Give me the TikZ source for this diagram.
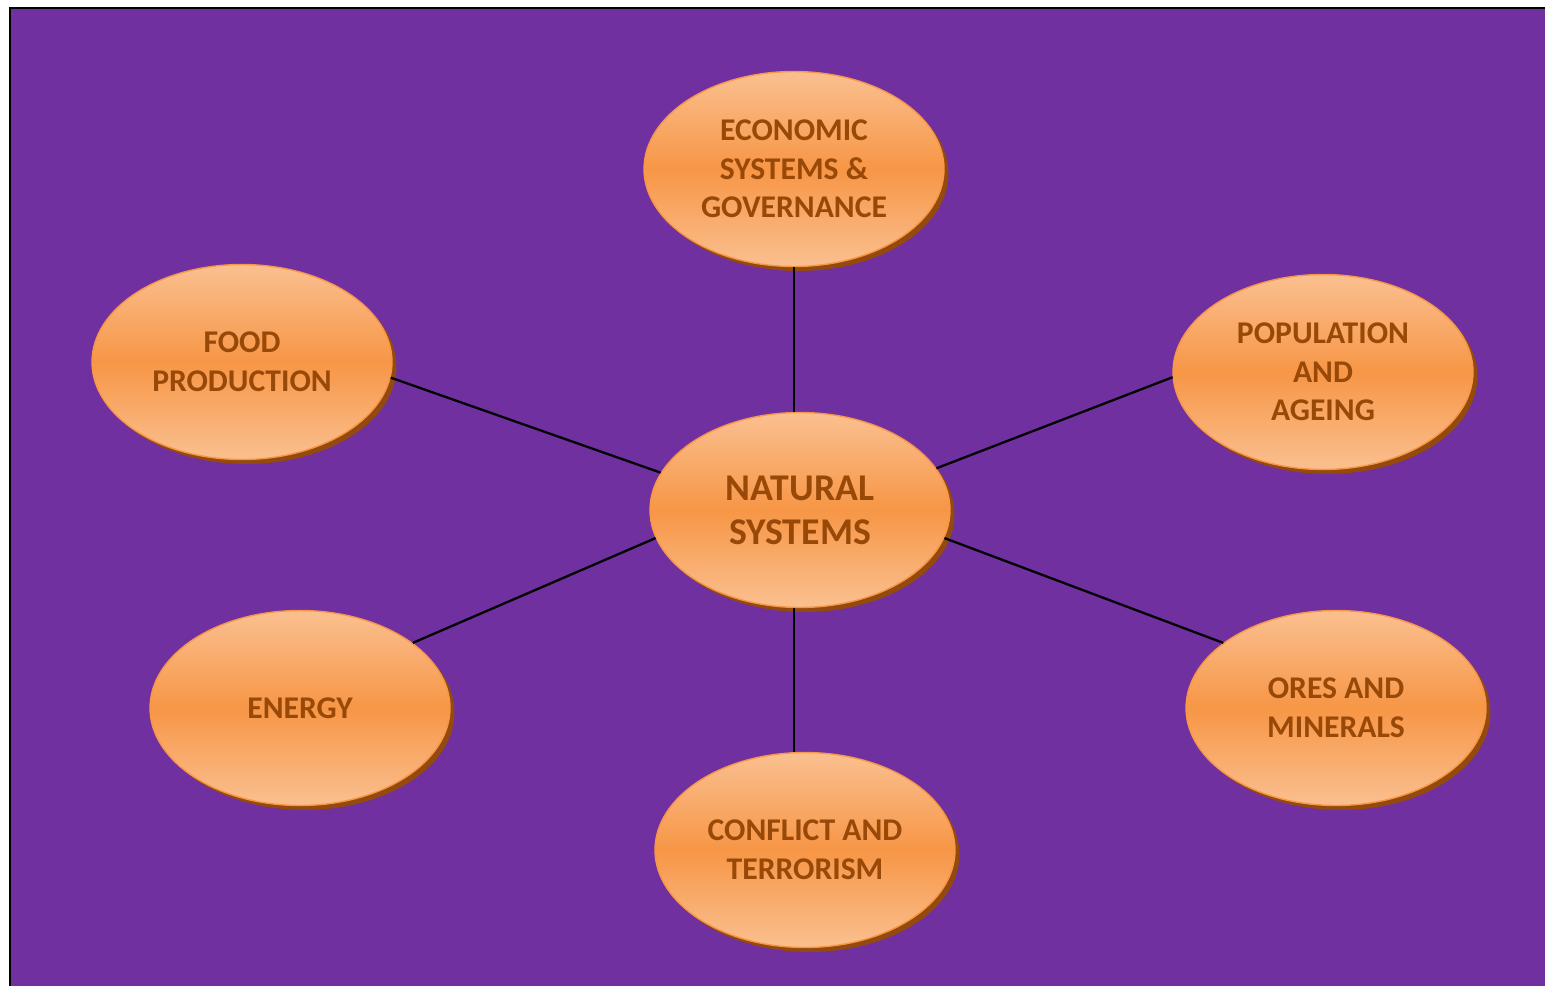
\documentclass[tikz,border=0pt]{standalone}
\usepackage{fontspec}
\setmainfont{Carlito}
\usetikzlibrary{shapes.geometric,shadows}
\definecolor{bgpurple}{HTML}{7030A0}
\definecolor{txtbrown}{HTML}{984807}
\definecolor{lightorange}{HTML}{FAC090}
\definecolor{midorange}{HTML}{F79646}
\definecolor{shadebrown}{HTML}{944A0C}
\begin{document}
\begin{tikzpicture}[x=0.02cm,y=-0.02cm,
  bubble/.style={ellipse,minimum width=6cm,minimum height=3.9cm,inner sep=0pt,draw=midorange,line width=0.8pt,
    top color=lightorange,bottom color=lightorange,middle color=midorange,
    drop shadow={shadow xshift=0.09cm,shadow yshift=-0.09cm,fill=shadebrown,opacity=1},
    text=txtbrown,align=center,font=\fontsize{18}{22}\selectfont\bfseries},
  link/.style={black,line width=1.3pt}]
\useasboundingbox(0,0)rectangle(1545,986);\clip(0,0)rectangle(1545,986);
\draw[fill=bgpurple,line width=1.6pt](10,8)rectangle(1600,1040);
% hub and the six themes round it
\node[bubble,font=\fontsize{21.5}{25}\selectfont\bfseries](nat)at(800,510){NATURAL\\SYSTEMS};
\node[bubble](econ)at(794,169){ECONOMIC\\SYSTEMS \&\\GOVERNANCE};
\node[bubble](food)at(242,362){FOOD\\PRODUCTION};
\node[bubble](pop)at(1323,372){POPULATION\\AND\\AGEING};
\node[bubble](energy)at(300,708){ENERGY};
\node[bubble](ores)at(1336,708){ORES AND\\MINERALS};
\node[bubble](conf)at(805,850){CONFLICT AND\\TERRORISM};
\draw[link](econ.south)--(econ.south|-nat.north);\draw[link](nat.south-|econ.south)--(conf.north-|econ.south);
\draw[link](food.-6)--(nat.165);\draw[link](pop.182)--(nat.17);
\draw[link](energy.30)--(nat.191);\draw[link](ores.150)--(nat.-11);
\end{tikzpicture}
\end{document}
